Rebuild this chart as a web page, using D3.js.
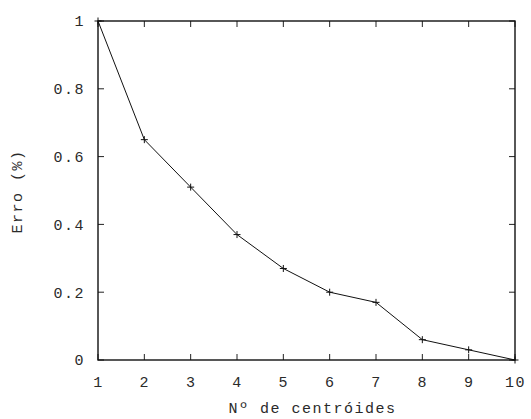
<!DOCTYPE html>
<meta charset="utf-8">
<style>
body { margin: 0; background: #fff; }
text { font-family: "Liberation Mono", "Courier New", monospace; font-size: 15px; fill: #2a2a2a; letter-spacing: 1.5px; }
</style>
<body>
<script src="https://cdn.jsdelivr.net/npm/d3@7"></script>
<script>
// data
var centroids = [1, 2, 3, 4, 5, 6, 7, 8, 9, 10];
var erro = [1.0, 0.65, 0.51, 0.37, 0.27, 0.20, 0.17, 0.06, 0.03, 0.0];
var yTicks = [0, 0.2, 0.4, 0.6, 0.8, 1];

var margin = {top: 21, right: 16, bottom: 59, left: 98},
    width = 531 - margin.left - margin.right,
    height = 419 - margin.top - margin.bottom;

var x = d3.scaleLinear().domain([1, 10]).range([0, width]);
var y = d3.scaleLinear().domain([0, 1]).range([height, 0]);

var svg = d3.select("body").append("svg")
    .attr("width", 531)
    .attr("height", 419)
  .append("g")
    .attr("transform", "translate(" + margin.left + "," + margin.top + ")");

var tk = 6;

// tick labels
var xAxis = svg.append("g").attr("transform", "translate(0," + height + ")")
    .call(d3.axisBottom(x).tickValues(centroids).tickSize(0).tickPadding(16));
xAxis.select(".domain").remove();

var yAxis = svg.append("g")
    .call(d3.axisLeft(y).tickValues(yTicks).tickSize(0).tickPadding(13).tickFormat(d3.format("")));
yAxis.select(".domain").remove();
svg.selectAll("g").attr("font-size", null).attr("font-family", null);

// inward ticks, mirrored on top and right
var ticks = svg.append("g").attr("stroke", "#222").attr("stroke-width", 1);
centroids.forEach(function(c) {
  ticks.append("line").attr("x1", x(c)).attr("x2", x(c)).attr("y1", height).attr("y2", height - tk);
  ticks.append("line").attr("x1", x(c)).attr("x2", x(c)).attr("y1", 0).attr("y2", tk);
});
yTicks.forEach(function(v) {
  ticks.append("line").attr("x1", 0).attr("x2", tk).attr("y1", y(v)).attr("y2", y(v));
  ticks.append("line").attr("x1", width).attr("x2", width - tk).attr("y1", y(v)).attr("y2", y(v));
});

// frame
svg.append("rect")
    .attr("width", width).attr("height", height)
    .attr("fill", "none").attr("stroke", "#111").attr("stroke-width", 1.4);

// line
var data = centroids.map(function(c, i) { return {c: c, v: erro[i]}; });
svg.append("path")
    .datum(data)
    .attr("fill", "none").attr("stroke", "#111").attr("stroke-width", 1)
    .attr("d", d3.line().x(function(d) { return x(d.c); }).y(function(d) { return y(d.v); }));

// + markers
var m = 3.5;
svg.selectAll(".pt").data(data).enter().append("path")
    .attr("class", "pt")
    .attr("stroke", "#111").attr("stroke-width", 1).attr("fill", "none")
    .attr("d", function(d) {
      var px = x(d.c), py = y(d.v);
      return "M" + (px - m) + "," + py + "H" + (px + m) + "M" + px + "," + (py - m) + "V" + (py + m);
    });

// axis titles
svg.append("text")
    .attr("x", width / 2 + 6).attr("y", height + 53)
    .attr("text-anchor", "middle")
    .text("Nº de centróides");

svg.append("text")
    .attr("transform", "translate(-76," + (height / 2 + 1) + ") rotate(-90)")
    .attr("text-anchor", "middle")
    .text("Erro (%)");
</script>
</body>
